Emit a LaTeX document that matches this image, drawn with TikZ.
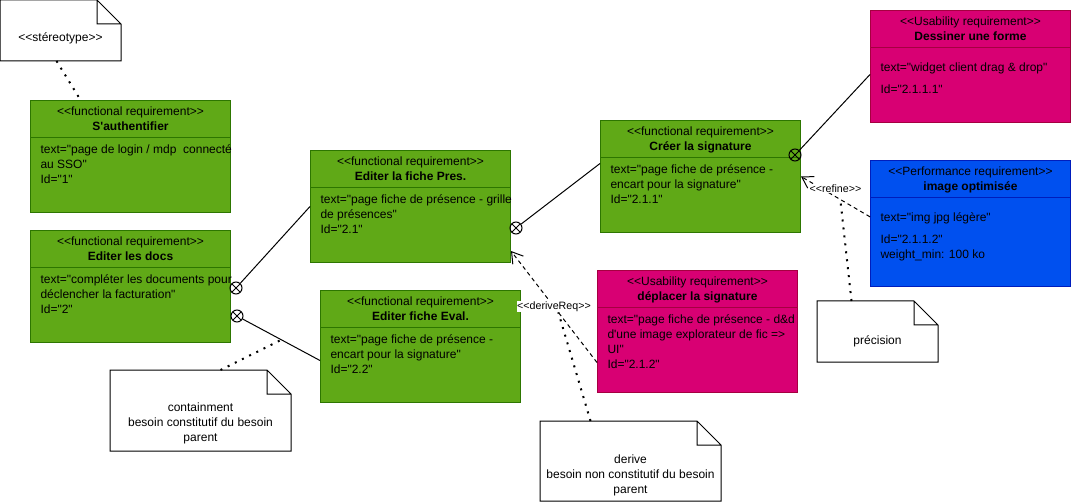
\documentclass[tikz,border=0pt]{standalone}
\usepackage{fontspec}
\setmainfont{Liberation Sans}[Ligatures=TeXOff]
\usetikzlibrary{positioning,arrows.meta}
\definecolor{greenfill}{HTML}{60A917}
\definecolor{greendark}{HTML}{2D7600}
\definecolor{pinkfill}{HTML}{D80073}
\definecolor{pinkdark}{HTML}{A50040}
\definecolor{bluefill}{HTML}{0050EF}
\definecolor{bluedark}{HTML}{001DBC}
\tikzstyle{greenreq} = [rectangle, draw=greendark, fill=greenfill, anchor=north west, inner sep=0, minimum width=150pt]
\tikzstyle{pinkreq} = [rectangle, draw=pinkdark, fill=pinkfill, anchor=north west, inner sep=0, minimum width=150pt]
\tikzstyle{bluereq} = [rectangle, draw=bluedark, fill=bluefill, anchor=north west, inner sep=0, minimum width=150pt]
\tikzstyle{greenreq line} = [draw=greendark]
\tikzstyle{pinkreq line} = [draw=pinkdark]
\tikzstyle{bluereq line} = [draw=bluedark]
\tikzstyle{reqhead} = [inner sep=0, align=center]
\tikzstyle{reqbody} = [inner sep=0, anchor=north west, align=left]
\tikzstyle{note} = [rectangle, anchor=north west, inner sep=0]
\tikzstyle{notetext} = [inner sep=0, align=center]
\tikzstyle{contain} = [circle, draw, inner sep=0, minimum size=9pt, path picture={\draw (path picture bounding box.north west) -- (path picture bounding box.south east) (path picture bounding box.south west) -- (path picture bounding box.north east);}]
\tikzstyle{contline} = [draw]
\tikzstyle{reqline} = [draw, dash pattern=on 3pt off 2.5pt, -{Straight Barb[length=8pt, width=10pt]}]
\tikzstyle{noteline} = [draw, line width=1.5pt, dash pattern=on 1.5pt off 4.5pt]
\tikzstyle{edgelabel} = [fill=white, inner sep=0.5pt, font=\fontsize{8}{9.6}\selectfont]
\newcommand{\reqbox}[9]{%
  \node [#1, minimum height=#5*0.75pt] (#2) at (#3,#4) {};
  \node [reqhead, below=4.5pt of #2.north] (#2-head) {<<#6>>\\\textbf{#7}};
  \draw [#1 line] ([yshift=-28.5pt]#2.north west) -- ([yshift=-28.5pt]#2.north east);
  \node [reqbody, below right=#8 and 7.5pt of #2.north west] (#2-body) {#9};
}
\newcommand{\notebox}[7]{%
  \node [note, minimum width=#4*0.75pt, minimum height=#5*0.75pt,
    label={[notetext, yshift=-#6]center:{#7}}] (#1) at (#2,#3) {};
  \draw (#1.north west) -- ([xshift=-18pt]#1.north east) -- ([yshift=-18pt]#1.north east)
    -- (#1.south east) -- (#1.south west) -- cycle
    ([xshift=-18pt]#1.north east) |- ([yshift=-18pt]#1.north east);
}
\begin{document}
\begin{tikzpicture}[x=0.75pt, y=-0.75pt, line width=0.75pt, font=\fontsize{9}{11.25}\selectfont]
  \useasboundingbox (0,0) rectangle (1071,502);
  \reqbox{greenreq}{auth}{30}{100}{112}{functional requirement}{S'authentifier}{33pt}{text="page de login / mdp\ \ connecté\\au SSO"\\Id="1"}
  \reqbox{greenreq}{docs}{30}{230}{112}{functional requirement}{Editer les docs}{33pt}{text="compléter les documents pour\\déclencher la facturation"\\Id="2"}
  \reqbox{greenreq}{pres}{310}{150}{112}{functional requirement}{Editer la fiche Pres.}{33pt}{text="page fiche de présence - grille\\de présences"\\Id="2.1"}
  \reqbox{greenreq}{eval}{320}{290}{112}{functional requirement}{Editer fiche Eval.}{33pt}{text="page fiche de présence -\\encart pour la signature"\\Id="2.2"}
  \reqbox{greenreq}{sig}{600}{120}{112}{functional requirement}{Créer la signature}{33pt}{text="page fiche de présence -\\encart pour la signature"\\Id="2.1.1"}
  \reqbox{pinkreq}{forme}{870}{10}{112}{Usability requirement}{Dessiner une forme}{39pt}{text="widget client drag \& drop"\\[5.25pt]Id="2.1.1.1"}
  \reqbox{bluereq}{optim}{870}{160}{126}{Performance requirement}{image optimisée}{39pt}{text="img jpg légère"\\[5.25pt]Id="2.1.1.2"\\weight\_min: 100 ko}
  \reqbox{pinkreq}{move}{597}{270}{122}{Usability requirement}{déplacer la signature}{33pt}{text="page fiche de présence - d\&d\\d'une image explorateur de fic =>\\UI"\\Id="2.1.2"}
  \notebox{stereo}{0}{0}{120}{60}{6pt}{<<stéreotype>>}
  \notebox{cont}{110}{370}{180}{80}{10pt}{containment\\besoin constitutif du besoin\\parent}
  \notebox{deriv}{540}{421}{180}{79}{11pt}{derive\\besoin non constitutif du besoin\\parent}
  \notebox{prec}{817}{301}{120}{60}{7pt}{précision}
  \node [contain] (docs-c1) at (236,288) {};
  \node [contain] (docs-c2) at (237,316) {};
  \node [contain] (pres-c) at (516,228) {};
  \node [contain] (sig-c) at (795,155) {};
  \path [contline] (docs-c1) -- (pres.west);
  \path [contline] (docs-c2) -- coordinate[pos=0.5] (docs-eval) ([yshift=-10.5pt]eval.west);
  \path [contline] (pres-c) -- ([yshift=9.75pt]sig.west);
  \path [contline] (sig-c) -- ([yshift=-6pt]forme.west);
  \path [reqline] ([yshift=5pt]optim.west) -- coordinate[pos=0.43] (refine-pt) node [edgelabel, yshift=6pt] (refine) {<<refine>>} (sig.east);
  \path [reqline] ([yshift=-23.25pt]move.west) -- coordinate[pos=0.45] (derive-pt) node [edgelabel] (derive) {<<deriveReq>>} ([yshift=9pt]pres.south east);
  \path [noteline] ([xshift=-3pt]stereo.south) -- ([xshift=-37.5pt]auth.north);
  \path [noteline] ([xshift=15pt]cont.north) -- (docs-eval);
  \path [noteline] ([xshift=-30pt]deriv.north) -- (derive-pt);
  \path [noteline] ([xshift=-19.5pt]prec.north) -- (refine-pt);
\end{tikzpicture}
\end{document}
